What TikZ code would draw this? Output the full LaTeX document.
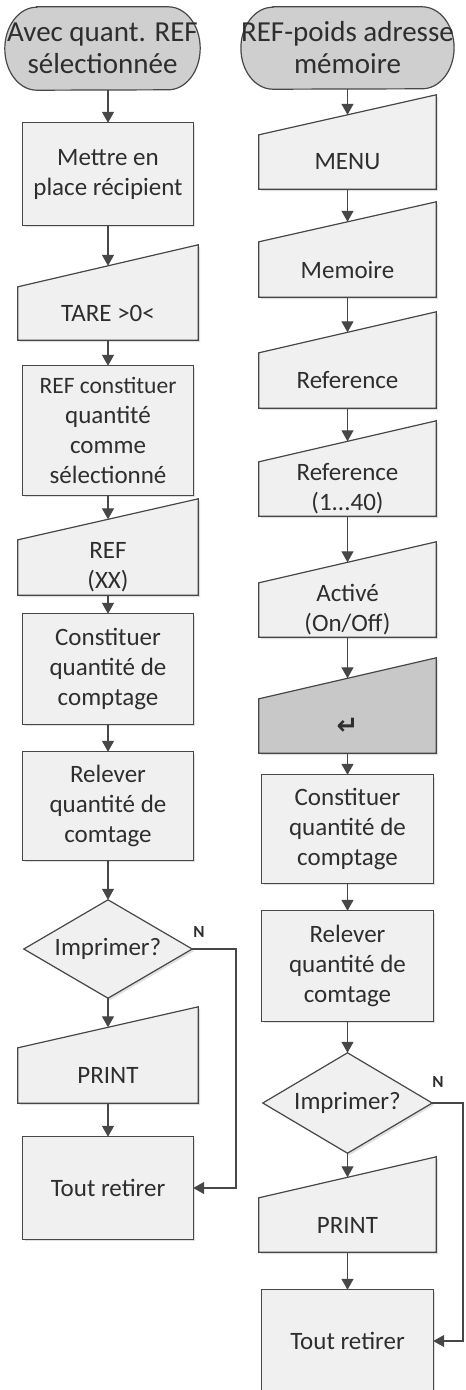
\documentclass[tikz,border=0pt]{standalone}
\usepackage{fontspec}
\setmainfont{Carlito}
\newfontfamily\symfont{DejaVu Sans}
\usetikzlibrary{arrows.meta,calc,shadows,backgrounds}

\definecolor{edgegray}{HTML}{474747}
\definecolor{boxgray}{HTML}{F0F0F0}
\definecolor{termgray}{HTML}{CFCFCF}
\definecolor{keygray}{HTML}{C8C8C8}
\definecolor{inkgray}{HTML}{2E2E2E}

\tikzset{
  outline/.style={draw=edgegray, line width=1.2pt, line join=miter},
  softshadow/.style={drop shadow={shadow xshift=2pt, shadow yshift=-2pt, opacity=0.12, fill=black}},
  lightfill/.style={outline, softshadow, fill=boxgray},
  keyfill/.style={outline, softshadow, fill=keygray},
  termfill/.style={outline, fill=termgray},
  body/.style={rectangle, draw=none, inner sep=0pt, align=center, text=inkgray,
    font=\fontsize{25}{30}\selectfont},
  termtext/.style={font=\fontsize{29}{32}\selectfont},
  link/.style={draw=edgegray, line width=1.2pt, -{Triangle[width=12pt,length=11pt]}},
  flag/.style={font=\bfseries\fontsize{17}{17}\selectfont, text=inkgray},
}

% process box: name, position, width, height, text
\newcommand\procbox[5]{%
  \node[body, minimum width=#3, minimum height=#4] (#1) at (#2) {#5};
  \begin{pgfonlayer}{background}
    \path[lightfill] (#1.south west) rectangle (#1.north east);
  \end{pgfonlayer}}

% manual input: [fill style] name, position, width, height of lower part, rise of slanted top, text
\newcommand\maninput[7][lightfill]{%
  \node[body, minimum width=#4, minimum height=#5] (#2) at (#3) {#7};
  \begin{pgfonlayer}{background}
    \path[#1] (#2.south west) -- (#2.south east) -- ($(#2.north east)+(0,#6)$)
      -- (#2.north west) -- cycle;
  \end{pgfonlayer}
  \coordinate (#2in) at ($(#2.north)+(0,#6/2)$);}

% terminator: name, position, width, height, text
\newcommand\termbox[5]{%
  \node[body, termtext, minimum width=#3, minimum height=#4] (#1) at (#2) {#5};
  \begin{pgfonlayer}{background}
    \path[termfill] ($(#1.north west)+(32,0)$) -- ($(#1.north east)+(-32,0)$)
      arc[start angle=90, end angle=-90, x radius=32, y radius=#4/2]
      -- ($(#1.south west)+(32,0)$)
      arc[start angle=270, end angle=90, x radius=32, y radius=#4/2] -- cycle;
  \end{pgfonlayer}}

% decision: name, position, width, height, text
\newcommand\decbox[5]{%
  \node[body, minimum width=#3, minimum height=#4] (#1) at (#2) {#5};
  \begin{pgfonlayer}{background}
    \path[lightfill] (#1.north) -- (#1.east) -- (#1.south) -- (#1.west) -- cycle;
  \end{pgfonlayer}}

\begin{document}
\begin{tikzpicture}[x=1pt,y=1pt]
\useasboundingbox (0,0) rectangle (466,-1390);

% ---------- left column ----------
\termbox{t1}{102.5,-48.5}{195}{83}{Avec quant. REF\\sélectionnée}
\procbox{b1}{108,-174}{170}{102}{Mettre en\\place récipient}
\maninput{m1}{108,-313.5}{180}{53}{42}{TARE >0<}
\procbox{b2}{108,-430.5}{170}{129}{\fontsize{23.5}{29}\selectfont REF constituer\\quantité\\comme\\sélectionné}
\maninput{m2}{108,-567.5}{180}{55}{41}{REF\\(XX)}
\procbox{b3}{108,-669}{170}{110}{Constituer\\quantité de\\comptage}
\procbox{b4}{108,-806}{170}{108}{Relever\\quantité de\\comtage}
\decbox{d1}{108,-949}{168}{98}{Imprimer?}
\maninput{m3}{108,-1075.5}{180}{55}{41}{PRINT}
\procbox{b5}{108,-1188}{170}{102}{Tout retirer}
\coordinate (loopL) at (236,-949);
\node[flag] (n1) at (199,-932) {N};

\draw[link] (t1.south -| b1.north) -- (b1.north);
\draw[link] (b1.south) -- (m1in);
\draw[link] (m1.south) -- (b2.north);
\draw[link] (b2.south) -- (m2in);
\draw[link] (m2.south) -- (b3.north);
\draw[link] (b3.south) -- (b4.north);
\draw[link] (b4.south) -- (d1.north);
\draw[link] (d1.south) -- (m3in);
\draw[link] (m3.south) -- (b5.north);
\draw[link] (d1.east) -- (loopL) |- (b5.east);

% ---------- right column ----------
\termbox{t2}{347.5,-48}{205}{82}{REF-poids adresse\\mémoire}
\maninput{m4}{347.5,-162}{177}{54}{40}{MENU}
\maninput{m5}{347.5,-269.5}{177}{55}{40}{Memoire}
\maninput{m6}{347.5,-380.5}{177}{55}{41}{Reference}
\maninput{m7}{347.5,-489}{177}{54}{41}{Reference\\(1...40)}
\maninput{m8}{347.5,-610}{177}{54}{41}{Activé\\(On/Off)}
\maninput[keyfill]{m9}{347.5,-726}{177}{54}{41}{{\symfont\bfseries\fontsize{26}{26}\selectfont ↵}}
\procbox{b6}{347.5,-829}{171}{108}{Constituer\\quantité de\\comptage}
\procbox{b7}{347.5,-966}{171}{110}{Relever\\quantité de\\comtage}
\decbox{d2}{347.5,-1103}{169}{100}{Imprimer?}
\maninput{m10}{347.5,-1225}{177}{54}{41}{PRINT}
\procbox{b8}{347.5,-1341}{171}{102}{Tout retirer}
\coordinate (loopR) at (463,-1103);
\node[flag] (n2) at (438,-1082) {N};

\draw[link] (t2.south) -- (m4in);
\draw[link] (m4.south) -- (m5in);
\draw[link] (m5.south) -- (m6in);
\draw[link] (m6.south) -- (m7in);
\draw[link] (m7.south) -- (m8in);
\draw[link] (m8.south) -- (m9in);
\draw[link] (m9.south) -- (b6.north);
\draw[link] (b6.south) -- (b7.north);
\draw[link] (b7.south) -- (d2.north);
\draw[link] (d2.south) -- (m10in);
\draw[link] (m10.south) -- (b8.north);
\draw[link] (d2.east) -- (loopR) |- (b8.east);
\end{tikzpicture}
\end{document}
